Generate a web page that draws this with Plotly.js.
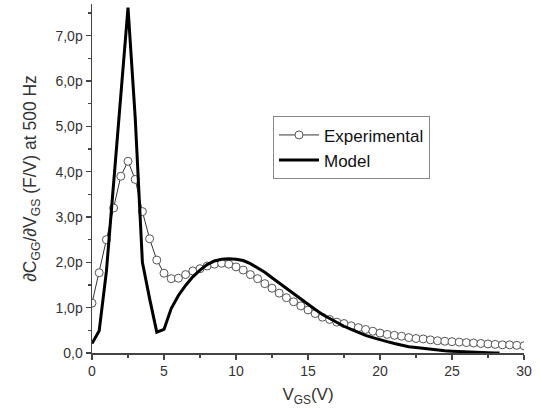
<!DOCTYPE html>
<html>
<head>
<meta charset="utf-8">
<script src="https://cdn.plot.ly/plotly-3.0.1.min.js"></script>
<style>html,body{margin:0;padding:0;background:#fff;}#chart{width:540px;height:414px;}</style>
</head>
<body>
<div id="chart"></div>
<script>
// Experimental data (V_GS in V, dC/dV in pF/V)
var expX = [0,0.5,1,1.5,2,2.5,3,3.5,4,4.5,5,5.5,6,6.5,7,7.5,8,8.5,9,9.5,10,10.5,11,11.5,12,12.5,13,13.5,14,14.5,15,15.5,16,16.5,17,17.5,18,18.5,19,19.5,20,20.5,21,21.5,22,22.5,23,23.5,24,24.5,25,25.5,26,26.5,27,27.5,28,28.5,29,29.5,30];
var expY = [1.10,1.77,2.50,3.20,3.90,4.23,3.83,3.12,2.52,2.05,1.76,1.64,1.65,1.73,1.81,1.86,1.92,1.96,1.98,1.96,1.90,1.83,1.73,1.64,1.53,1.43,1.32,1.22,1.13,1.04,0.95,0.87,0.79,0.74,0.68,0.65,0.60,0.56,0.52,0.48,0.44,0.41,0.39,0.37,0.34,0.32,0.31,0.29,0.27,0.26,0.25,0.24,0.23,0.22,0.21,0.20,0.19,0.18,0.18,0.17,0.16];
// Model curve
var modX = [0,0.5,1,1.5,2,2.5,3,3.5,4,4.5,5,5.5,6,6.5,7,7.5,8,8.5,9,9.5,10,10.5,11,11.5,12,12.5,13,13.5,14,14.5,15,15.5,16,16.5,17,17.5,18,18.5,19,19.5,20,20.5,21,21.5,22,22.5,23,23.5,24,24.5,25,25.5,26,26.5,27,27.5,28,28.3];
var modY = [0.21,0.49,1.80,3.75,5.70,7.62,5.20,2.00,1.20,0.46,0.52,0.98,1.27,1.49,1.68,1.83,1.95,2.03,2.07,2.08,2.07,2.04,1.97,1.88,1.78,1.66,1.54,1.42,1.30,1.18,1.07,0.96,0.85,0.76,0.67,0.59,0.52,0.45,0.39,0.34,0.29,0.25,0.21,0.17,0.14,0.12,0.10,0.08,0.065,0.05,0.04,0.03,0.02,0.015,0.01,0.005,0.0,0.0];
var yTickVals = [0,1,2,3,4,5,6,7];
var yTickText = ['0,0','1,0p','2,0p','3,0p','4,0p','5,0p','6,0p','7,0p'];
var xTickVals = [0,5,10,15,20,25,30];

var traces = [
  {x: expX, y: expY, name: 'Experimental', type: 'scatter', mode: 'lines+markers',
   line: {color: '#333', width: 1},
   marker: {symbol: 'circle', size: 8, color: '#ffffff', line: {color: '#555', width: 1}}},
  {x: modX, y: modY, name: 'Model', type: 'scatter', mode: 'lines',
   line: {color: '#000', width: 3}}
];
var fam = 'Liberation Sans, Arial, sans-serif';
var axisFont = {family: fam, size: 14, color: '#333'};
var layout = {
  width: 540, height: 414,
  margin: {l: 92, r: 16, t: 4, b: 61},
  paper_bgcolor: '#fff', plot_bgcolor: '#fff',
  showlegend: true,
  legend: {x: 0.419, y: 0.678, xanchor: 'left', yanchor: 'top',
    bordercolor: '#888', borderwidth: 1, bgcolor: '#fff',
    font: {family: fam, size: 17, color: '#111'},
    itemwidth: 40, tracegroupgap: 0},
  xaxis: {range: [0, 30], tickvals: xTickVals, ticktext: xTickVals.map(String),
    ticks: 'outside', ticklen: 5, tickwidth: 1.2, tickcolor: '#444',
    showline: true, linecolor: '#444', linewidth: 1.5, showgrid: false, zeroline: false,
    tickfont: axisFont,
    minor: {dtick: 2.5, tick0: 0, ticks: 'outside', ticklen: 3, tickcolor: '#444', showgrid: false},
    title: {text: 'V<sub>GS</sub>(V)', font: {family: fam, size: 17, color: '#333'}, standoff: 10}},
  yaxis: {range: [0, 7.7], tickvals: yTickVals, ticktext: yTickText,
    ticks: 'outside', ticklen: 5, tickwidth: 1.2, tickcolor: '#444',
    showline: true, linecolor: '#444', linewidth: 1.5, showgrid: false, zeroline: false,
    tickfont: axisFont,
    minor: {dtick: 0.5, tick0: 0, ticks: 'outside', ticklen: 3, tickcolor: '#444', showgrid: false},
    title: {text: '∂C<sub>GG</sub>/∂V<sub>GS</sub> (F/V) at 500 Hz', font: {family: fam, size: 17.5, color: '#333'}, standoff: 14}}
};
Plotly.newPlot('chart', traces, layout, {displayModeBar: false, staticPlot: true});
</script>
</body>
</html>
